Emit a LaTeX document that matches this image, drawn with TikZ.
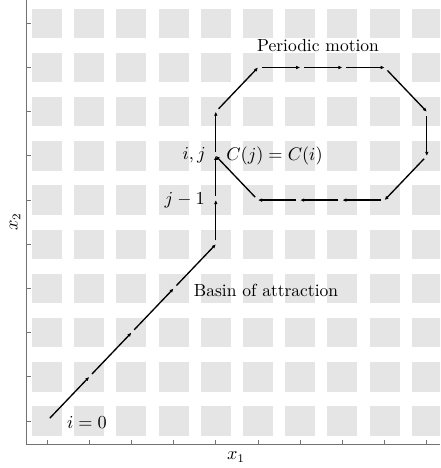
\documentclass[tikz,border=0pt]{standalone}
\usetikzlibrary{arrows.meta,calc}
\begin{document}
\begin{tikzpicture}[x=0.6pt,y=-0.6pt,
  cell/.style={fill=gray!20,draw=none},
  axisline/.style={draw=black!55,line width=0.6pt},
  traj/.style={line width=0.8pt,-{Latex[length=2.4pt,width=2.2pt]},shorten <=2.4pt},
  lbl/.style={inner sep=0pt,font=\fontsize{10.5pt}{12.6pt}\selectfont}]
\useasboundingbox (0,0) rectangle (440,468);
\clip (0,0) rectangle (440,468);
% grey cells and grid coordinates
\foreach \i in {0,...,9}{
  \foreach \j in {0,...,9}{
    \coordinate (p\i\j) at ({47+42.2*\i},{421.1-44.2*\j});
    \fill[cell] ($(p\i\j)+(-15,-14.75)$) rectangle ($(p\i\j)+(15,14.75)$);
  }
}
% axes
\coordinate (o) at (26.7,444);
\coordinate (yt) at (26.7,0);
\coordinate (xr) at (440,444);
\draw[axisline] (yt) -- (o) -- (xr);
\foreach \k in {0,...,9}{
  \draw[axisline] ({47+42.2*\k},444) -- ++(0,-4);
  \draw[axisline] (26.7,{421.1-44.2*\k}) -- ++(4,0);
}
\node[lbl] (xlab) at (236,457) {$x_1$};
\node[lbl,rotate=90] (ylab) at (15,222) {$x_2$};
% trajectory
\foreach \a/\b in {p00/p11,p11/p22,p22/p33,p33/p44,p44/p45,p45/p46,p46/p47,p47/p58,
  p58/p68,p68/p78,p78/p88,p88/p97,p97/p96,p96/p85,p85/p75,p75/p65,p65/p55,p55/p46}{
  \draw[traj] (\a) -- (\b);
}
% labels
\node[lbl] (l0) at (87,422) {$i=0$};
\node[lbl,anchor=east] (l1) at (205,200) {$j-1$};
\node[lbl,anchor=east] (l2) at (206,155) {$i,j$};
\node[lbl,anchor=west] (l3) at (226,156) {$C(j)=C(i)$};
\node[lbl] (l4) at (318,46) {Periodic motion};
\node[lbl] (l5) at (266,290) {Basin of attraction};
\end{tikzpicture}
\end{document}
